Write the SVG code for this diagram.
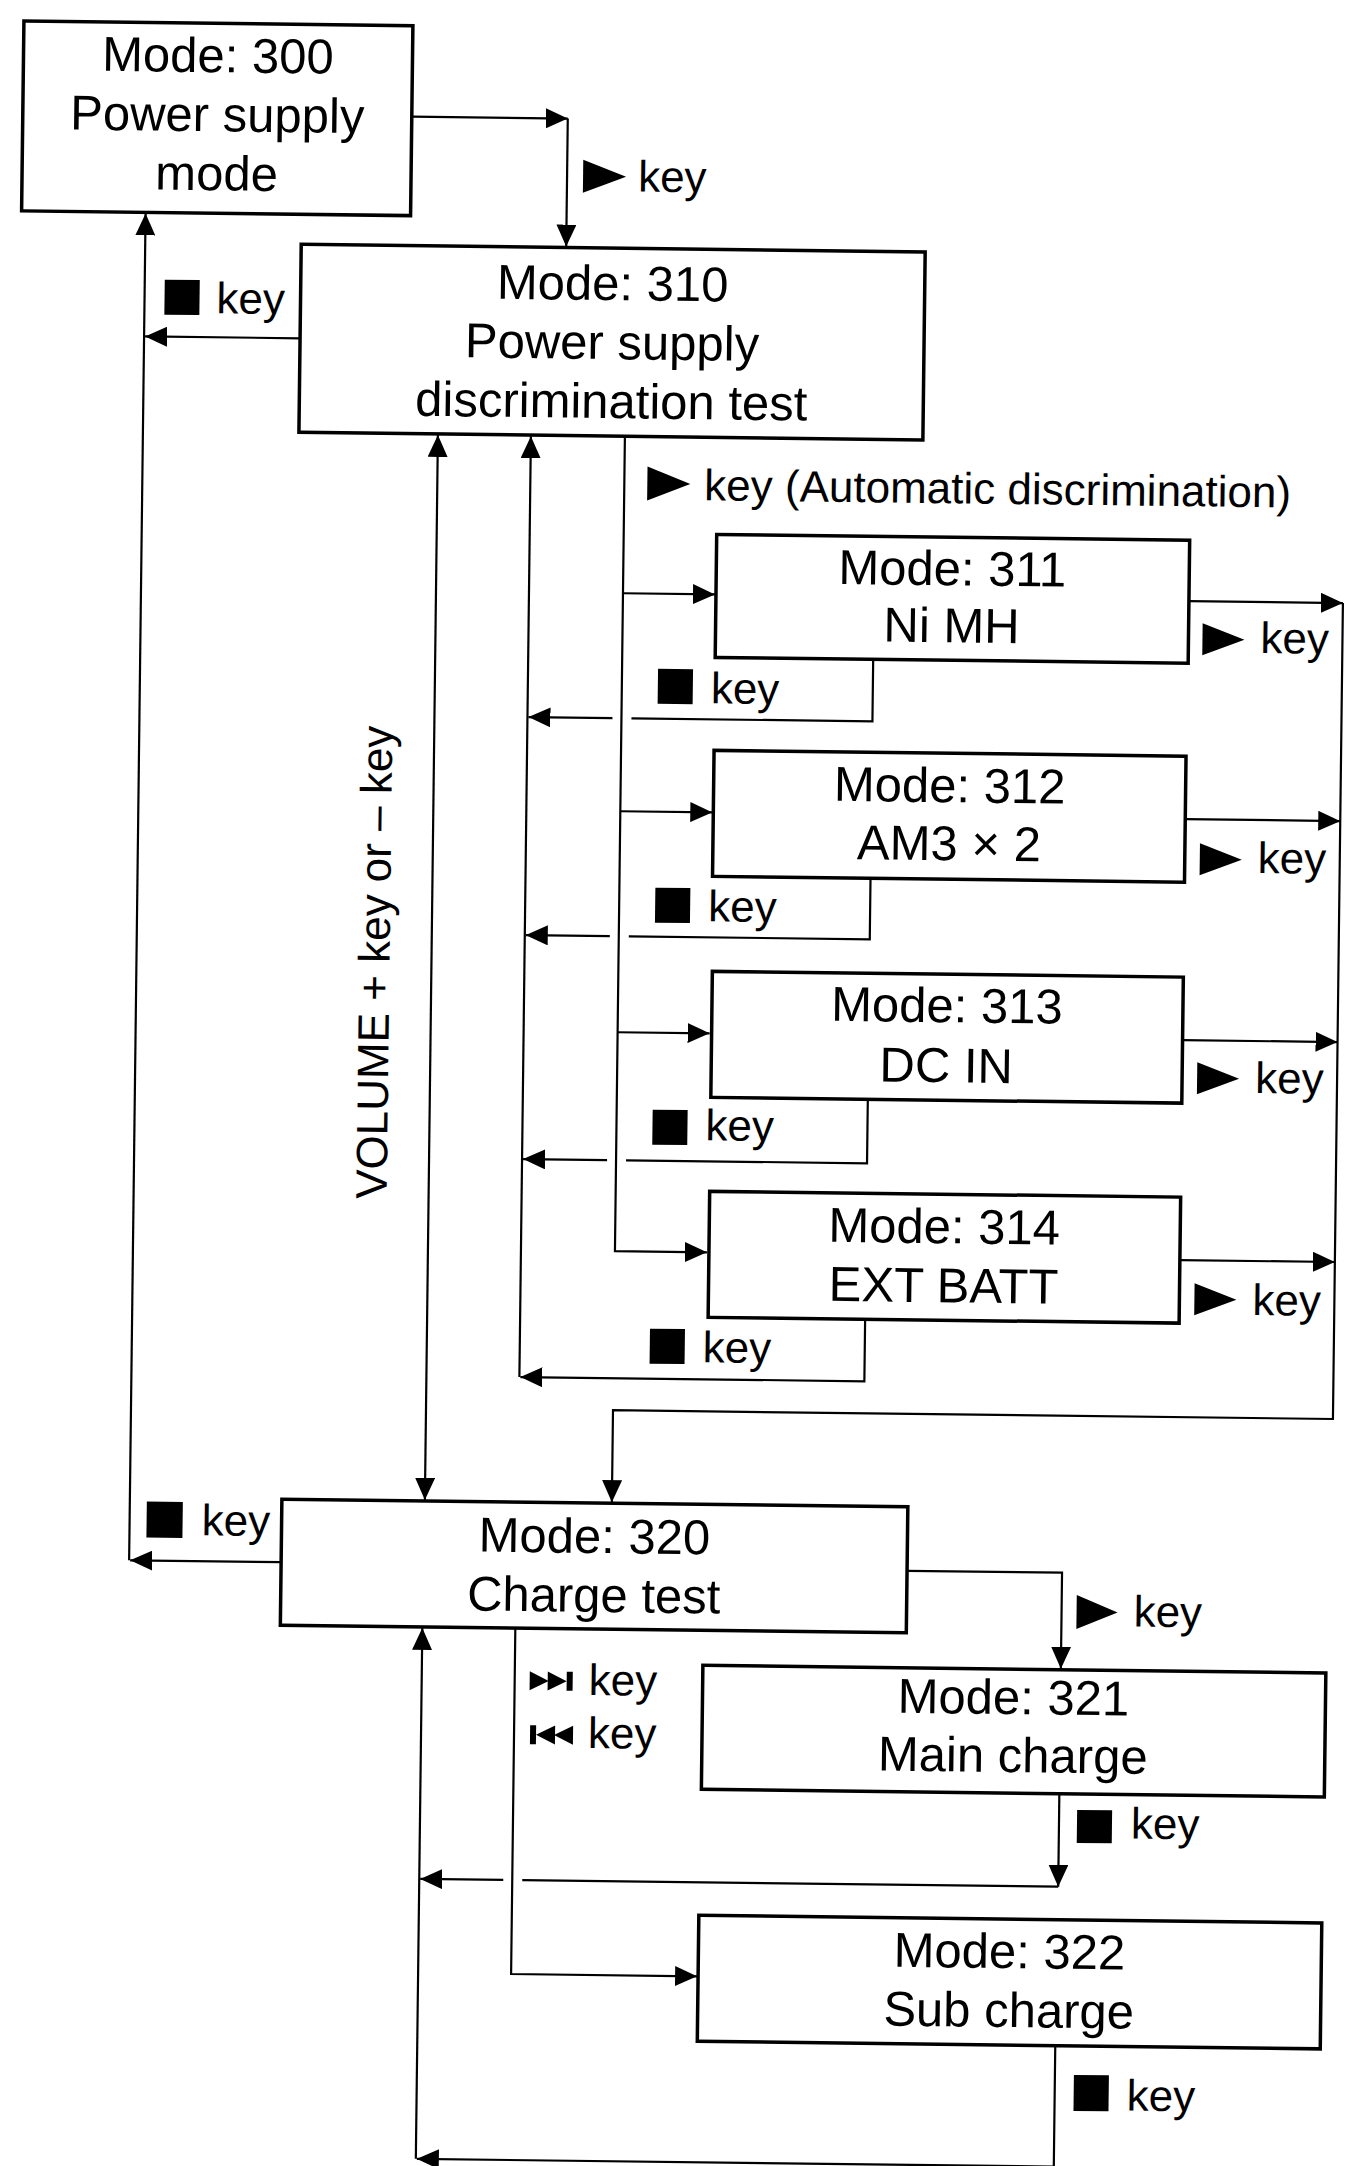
<svg xmlns="http://www.w3.org/2000/svg" width="1359" height="2166" viewBox="0 0 1359 2166">
<style>
.box{fill:#fff;stroke:#000;stroke-width:3.5}
.nt{font-family:"Liberation Sans",Arial,sans-serif;font-size:49px;fill:#000;text-anchor:middle}
.lt{font-family:"Liberation Sans",Arial,sans-serif;font-size:44px;fill:#000}
.c{fill:none;stroke:#000;stroke-width:2.2}
.a{fill:none;stroke:#000;stroke-width:2.2;marker-end:url(#ah)}
.ic{fill:#000}
</style>
<defs>
<marker id="ah" markerUnits="userSpaceOnUse" markerWidth="22" markerHeight="20" refX="22" refY="10" orient="auto" viewBox="0 0 22 20"><path d="M0,0 L22,10 L0,20 z" fill="#000"/></marker>
<marker id="ahs" markerUnits="userSpaceOnUse" markerWidth="22" markerHeight="20" refX="22" refY="10" orient="auto-start-reverse" viewBox="0 0 22 20"><path d="M0,0 L22,10 L0,20 z" fill="#000"/></marker>
</defs>
<rect x="0" y="0" width="1359" height="2166" fill="#fff"/>
<g transform="rotate(0.7 680 1083)">
<g id="connectors">
<path class="a" d="M400,120 H556"/>
<path class="a" d="M556,120 V248"/>
<path class="a" d="M291,343 H136"/>
<path class="a" d="M135,1567 V220"/>
<path class="a" d="M287,1567 H136"/>
<path class="c" d="M430,438 V1503" marker-start="url(#ahs)" marker-end="url(#ahs)"/>
<path class="a" d="M523,1379 V438"/>
<path class="a" d="M617,437 V1252 H709"/>
<path class="a" d="M617,594 H709"/>
<path class="a" d="M617,812 H709"/>
<path class="a" d="M617,1033 H709"/>
<path class="a" d="M1183,595 H1337"/>
<path class="a" d="M1182,813 H1337"/>
<path class="a" d="M1182,1034 H1337"/>
<path class="a" d="M1182,1254 H1337"/>
<path class="a" d="M1337,595 V1411 H617 V1503"/>
<path class="c" d="M868,657 V719 H627"/>
<path class="a" d="M608,719 H524"/>
<path class="c" d="M868,876 V937 H627"/>
<path class="a" d="M608,937 H524"/>
<path class="c" d="M868,1097 V1161 H627"/>
<path class="a" d="M608,1161 H524"/>
<path class="a" d="M868,1317 V1379 H524"/>
<path class="a" d="M913,1568 H1068 V1664"/>
<path class="a" d="M429,2162 V1631"/>
<path class="a" d="M1068,1789 V1882"/>
<path class="c" d="M1068,1882 H532"/>
<path class="a" d="M513,1882 H430"/>
<path class="a" d="M522,1630 V1976 H708"/>
<path class="a" d="M1067,2041 V2162 H430"/>
</g>
<g id="node-300">
<rect class="box" x="11" y="29" width="389" height="190"/>
<text class="nt" x="205.5" y="78">Mode: 300</text>
<text class="nt" x="205.5" y="137">Power supply</text>
<text class="nt" x="205.5" y="196">mode</text>
</g>
<g id="node-310">
<rect class="box" x="291" y="249" width="624" height="188"/>
<text class="nt" x="603" y="301">Mode: 310</text>
<text class="nt" x="603" y="360">Power supply</text>
<text class="nt" x="603" y="419">discrimination test</text>
</g>
<g id="node-311">
<rect class="box" x="710" y="534" width="473" height="123"/>
<text class="nt" x="946" y="582">Mode: 311</text>
<text class="nt" x="946" y="639">Ni MH</text>
</g>
<g id="node-312">
<rect class="box" x="710" y="750" width="472" height="126"/>
<text class="nt" x="946" y="799">Mode: 312</text>
<text class="nt" x="946" y="857">AM3 × 2</text>
</g>
<g id="node-313">
<rect class="box" x="711" y="971" width="471" height="126"/>
<text class="nt" x="946" y="1019">Mode: 313</text>
<text class="nt" x="946" y="1079">DC IN</text>
</g>
<g id="node-314">
<rect class="box" x="711" y="1191" width="471" height="126"/>
<text class="nt" x="946" y="1240">Mode: 314</text>
<text class="nt" x="946" y="1299">EXT BATT</text>
</g>
<g id="node-320">
<rect class="box" x="287" y="1504" width="626" height="126"/>
<text class="nt" x="600" y="1554">Mode: 320</text>
<text class="nt" x="600" y="1613">Charge test</text>
</g>
<g id="node-321">
<rect class="box" x="710" y="1665" width="623" height="124"/>
<text class="nt" x="1021" y="1710">Mode: 321</text>
<text class="nt" x="1021" y="1768">Main charge</text>
</g>
<g id="node-322">
<rect class="box" x="709" y="1915" width="623" height="126"/>
<text class="nt" x="1020" y="1964">Mode: 322</text>
<text class="nt" x="1020" y="2023">Sub charge</text>
</g>
<g id="labels">
<polygon class="ic" points="572,161 615,177.5 572,194"/>
<text class="lt" x="627" y="192">key</text>
<rect class="ic" x="155" y="286" width="35" height="35"/>
<text class="lt" x="207" y="319">key</text>
<polygon class="ic" points="640,467 683,484 640,501"/>
<text class="lt" x="697" y="500">key (Automatic discrimination)</text>
<rect class="ic" x="653" y="669" width="35" height="35"/>
<text class="lt" x="706" y="703">key</text>
<rect class="ic" x="653" y="888" width="35" height="35"/>
<text class="lt" x="706" y="921">key</text>
<rect class="ic" x="653" y="1110" width="35" height="35"/>
<text class="lt" x="706" y="1140">key</text>
<rect class="ic" x="653" y="1329" width="35" height="35"/>
<text class="lt" x="706" y="1362">key</text>
<polygon class="ic" points="1197,617 1239,633 1197,649"/>
<text class="lt" x="1255" y="646">key</text>
<polygon class="ic" points="1197,837 1239,853 1197,869"/>
<text class="lt" x="1255" y="866">key</text>
<polygon class="ic" points="1197,1056 1239,1072 1197,1088"/>
<text class="lt" x="1255" y="1086">key</text>
<polygon class="ic" points="1197,1277 1239,1293 1197,1309"/>
<text class="lt" x="1255" y="1308">key</text>
<text class="lt" x="388" y="966" text-anchor="middle" transform="rotate(-90 388 966)">VOLUME + key or – key</text>
<rect class="ic" x="152" y="1508" width="36" height="36"/>
<text class="lt" x="207" y="1541">key</text>
<polygon class="ic" points="1083,1590 1124,1607 1083,1624"/>
<text class="lt" x="1140" y="1621">key</text>
<polygon class="ic" points="537,1673 556,1682.5 537,1692"/>
<polygon class="ic" points="555,1673 574,1682.5 555,1692"/>
<rect class="ic" x="574" y="1673" width="6" height="19"/>
<text class="lt" x="596" y="1696">key</text>
<rect class="ic" x="538" y="1727" width="6" height="19"/>
<polygon class="ic" points="563,1727 544,1736.5 563,1746"/>
<polygon class="ic" points="581,1727 562,1736.5 581,1746"/>
<text class="lt" x="596" y="1749">key</text>
<rect class="ic" x="1086" y="1805" width="35" height="33"/>
<text class="lt" x="1140" y="1833">key</text>
<rect class="ic" x="1086" y="2070" width="35" height="36"/>
<text class="lt" x="1139" y="2105">key</text>
</g>
</g>
</svg>
